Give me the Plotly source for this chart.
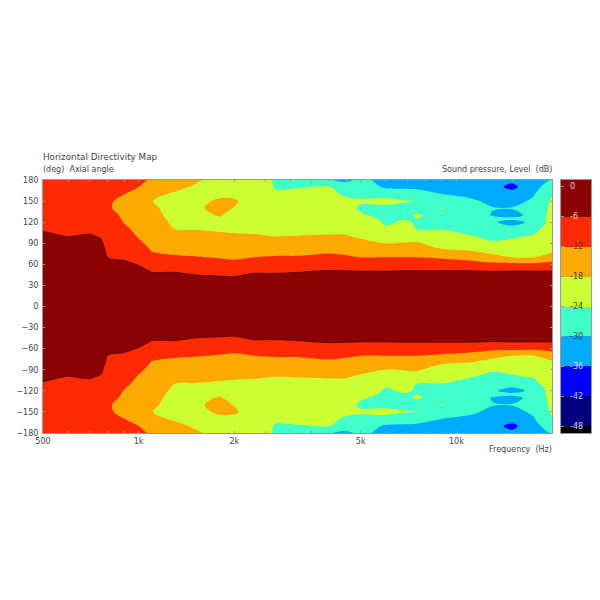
import plotly.graph_objects as go

freqs = [500, 600, 700, 760, 800, 900, 1000, 1100, 1300, 1500, 1800, 2000, 2300, 2700,
         3200, 4000, 4500, 5000, 6000, 6800, 7500, 9000, 11000, 13000, 15000, 17500, 20000]
angles = [0, 20, 40, 50, 60, 70, 80, 90, 100, 110, 120, 125, 130, 140, 150, 160, 170, 180]

# level (dB) for each frequency, one value per angle above
z_500 = [0, -1, -2, -2.5, -3, -3.5, -4, -4.7, -5.5, -6.2, -7, -7.2, -7.5, -8, -8.5, -9, -9.5, -10]
z_600 = [0, -1, -2, -2.5, -3, -3.5, -4.2, -5, -6.1, -7, -7.5, -7.7, -8, -8.5, -9, -9.5, -10, -10.5]
z_700 = [0, -1, -2, -2.5, -3, -3.5, -4, -4.8, -5.7, -6.8, -7.5, -7.7, -8, -8.5, -9, -9.5, -10, -10.5]
z_760 = [0, -1, -2, -2.7, -3.3, -3.8, -4.4, -5.4, -6.3, -7.2, -8, -8.3, -8.6, -9.3, -9.8, -10, -10.3, -10.5]
z_800 = [0, -1.5, -3, -4, -5, -6.1, -7, -7.5, -8, -8.5, -9, -9.5, -10, -11.3, -11.3, -11, -10.8, -10.5]
z_900 = [0, -1.5, -3, -4, -5.2, -6.7, -7.5, -8.2, -9.2, -10.8, -12.2, -12.6, -13, -14, -13.2, -11.9, -11, -10.5]
z_1000 = [0, -1.5, -3.5, -5, -6.2, -7.6, -9.5, -11, -12.5, -13.5, -14.5, -15, -15.5, -16.5, -15.5, -14, -12, -11]
z_1100 = [0, -2, -4.8, -6.2, -8.5, -10.8, -12.3, -13.5, -14.5, -15, -15.5, -16, -16.5, -17.3, -17.9, -16.5, -14.5, -12.6]
z_1300 = [0, -2, -4.8, -6.2, -8.8, -11.5, -13, -14.5, -16, -18, -19, -19.3, -19.5, -19.5, -19.5, -18.7, -16.5, -15]
z_1500 = [0, -2.2, -5, -7, -9.5, -11.7, -13.5, -15, -16.8, -18.1, -19.5, -19.8, -20, -19, -20, -20, -18.7, -17]
z_1800 = [0, -2.3, -5.3, -7.5, -10, -12.3, -14, -15.5, -17.2, -18.5, -19.5, -18.8, -17.5, -16.5, -17, -19.5, -20.5, -20]
z_2000 = [0, -2.3, -5.4, -7.8, -10.5, -12.8, -14.2, -15.8, -17.4, -18.8, -20, -20, -20, -18.2, -17.2, -19.5, -20.5, -20]
z_2300 = [0, -2.3, -5, -6.4, -9.5, -12, -13.8, -15.5, -17.5, -19, -20.5, -20.8, -21, -21, -21, -20.8, -20, -17.9]
z_2700 = [0, -2.2, -5, -6.4, -9, -11.6, -13.6, -15.8, -18, -19.5, -20.5, -20.8, -21, -21.5, -22, -23, -24.5, -25]
z_3200 = [0, -2, -4.8, -6.2, -9, -11.6, -13.5, -15.5, -17.8, -19.5, -20.5, -20.8, -21, -21.5, -22, -23, -24.2, -25.5]
z_4000 = [0, -2, -4.5, -5.7, -8, -11, -12.8, -15, -17.5, -19.5, -20.5, -20.8, -21, -21.5, -22, -23, -24, -29.7]
z_4500 = [0, -2, -4.6, -5.8, -8.3, -11.5, -13.2, -15, -17.6, -19.5, -20.5, -21, -21.5, -22, -23, -24.7, -27, -31.5]
z_5000 = [0, -2, -4.6, -5.9, -8.5, -12, -14, -16.5, -18.8, -20, -21, -22, -23.4, -24.8, -23.2, -25.5, -26, -28.5]
z_6000 = [0, -2, -4.6, -5.9, -8.5, -12, -15, -18, -20, -23.3, -24.6, -25, -25.5, -24.7, -23.2, -25, -31, -32]
z_6800 = [0, -2, -4.6, -5.8, -8.4, -12, -15, -17.8, -20, -22, -23.5, -24.3, -25, -25.3, -23.6, -27, -31, -32.5]
z_7500 = [0, -2, -4.6, -5.8, -8.4, -11.9, -15, -17.5, -20, -24.1, -24.3, -24, -23.6, -25.5, -23.9, -28, -31, -33]
z_9000 = [0, -2, -4.5, -5.7, -9, -12.7, -17.5, -20, -22.5, -24.1, -25, -25.3, -25.5, -23.8, -27.5, -30, -33, -34]
z_11000 = [0, -2, -4.5, -5.7, -9.5, -14, -18.2, -20.5, -23.7, -25.5, -26.5, -26.8, -27, -28, -29.2, -31, -33.5, -34]
z_13000 = [0, -2, -4.5, -6, -10.5, -16.5, -20, -23.5, -25, -26, -29.5, -28.9, -30.3, -29.8, -31, -33, -34.5, -34.5]
z_15000 = [0, -2, -4.5, -5.8, -10.5, -18, -20.5, -23, -24.5, -28.5, -31.5, -29, -31.5, -29.7, -32, -34, -37.2, -35]
z_17500 = [0, -2, -4.5, -5.8, -10.8, -18, -20, -22, -23.6, -25.5, -29, -27.5, -28.5, -27.5, -29, -30.5, -32.5, -33]
z_20000 = [0, -2, -4.5, -5.8, -9.5, -15.5, -19, -17.8, -20, -21, -21.5, -22, -22, -23, -23.2, -24.4, -26, -29.5]

columns = [z_500, z_600, z_700, z_760, z_800, z_900, z_1000, z_1100, z_1300, z_1500, z_1800, z_2000, z_2300,
           z_2700, z_3200, z_4000, z_4500, z_5000, z_6000, z_6800, z_7500, z_9000, z_11000, z_13000, z_15000,
           z_17500, z_20000]

band_colors = ['#000000', '#00007f', '#0000ff', '#00aaff', '#40ffc8', '#ccff33', '#ffaa00', '#ff2a00', '#8b0000']
band_edges = [-49.4, -48, -42, -36, -30, -24, -18, -12, -6, 1.4]
level_ticks = [0, -6, -12, -18, -24, -30, -36, -42, -48]
level_tick_colors = ['#ffc8c8', '#ffd0c0', '#444444', '#444444', '#444444', '#444444', '#c8e8ff', '#c0c0ff', '#d8d8ff']

x_minor = [500, 600, 700, 800, 900, 1000, 1500, 2000, 2500, 3000, 3500, 4000, 4500, 5000, 6000, 7000, 8000,
           9000, 10000, 15000, 20000]
x_labels = {500: '500', 1000: '1k', 2000: '2k', 5000: '5k', 10000: '10k'}
y_ticks = [-180, -150, -120, -90, -60, -30, 0, 30, 60, 90, 120, 150, 180]

# the map is symmetric, lower half mirrors the upper one
y = [-a for a in angles[::-1]] + angles[1:]
z = []
for i in range(len(angles) - 1, -1, -1):
    z.append([c[i] for c in columns])
for i in range(1, len(angles)):
    z.append([c[i] for c in columns])

n = len(band_colors)
colorscale = []
for i, c in enumerate(band_colors):
    colorscale.append([i / n, c])
    colorscale.append([(i + 1) / n, c])

TEXT = '#444444'
AXIS = '#999999'
FONT = 'DejaVu Sans'

fig = go.Figure()
fig.add_trace(go.Contour(
    x=freqs, y=y, z=z,
    zmin=-54, zmax=0,
    colorscale=colorscale,
    contours=dict(start=-48, end=-6, size=6, coloring='fill', showlines=False),
    line=dict(width=0, smoothing=1),
    hoverinfo='skip',
    showscale=False,
))
# thin dark edge round the main lobe
fig.add_trace(go.Contour(
    x=freqs, y=y, z=z,
    contours=dict(start=-6, end=-6, size=1, coloring='none'),
    line=dict(width=0.7, color='#3a0000', smoothing=1),
    hoverinfo='skip',
    showscale=False,
))

# colour key, drawn as its own small axes so it can stop short of the full bands
band_mid = [(band_edges[i] + band_edges[i + 1]) / 2 for i in range(n)]
fig.add_trace(go.Heatmap(
    x=[0, 1], y=band_edges, z=[[v] for v in band_mid],
    zmin=-54, zmax=0, colorscale=colorscale, showscale=False,
    hoverinfo='skip', xaxis='x2', yaxis='y2',
))

tick_font = dict(family=FONT, size=8, color=TEXT)
fig.update_layout(
    width=584, height=584,
    margin=dict(l=35, r=1, t=172, b=159, pad=0),
    paper_bgcolor='white', plot_bgcolor='white',
    showlegend=False,
    xaxis=dict(
        domain=[0, 509 / 548],
        type='log', range=[2.69897, 4.30103],
        tickmode='array', tickvals=x_minor,
        ticktext=[x_labels.get(v, '') for v in x_minor],
        ticks='inside', ticklen=2, tickcolor=AXIS,
        showline=True, linecolor=AXIS, linewidth=1, mirror='ticks',
        showgrid=False, zeroline=False, tickfont=tick_font,
    ),
    yaxis=dict(
        range=[-180, 180],
        tickmode='array', tickvals=y_ticks,
        ticks='inside', ticklen=2, tickcolor=AXIS,
        showline=True, linecolor=AXIS, linewidth=1, mirror='ticks',
        showgrid=False, zeroline=False, tickfont=tick_font, ticklabelstandoff=2,
    ),
    xaxis2=dict(
        domain=[518 / 548, 1], range=[0, 1], anchor='y2',
        showticklabels=False, ticks='', showgrid=False, zeroline=False,
        showline=True, linecolor=AXIS, linewidth=1, mirror=True,
    ),
    yaxis2=dict(
        domain=[0, 1], range=[band_edges[0], band_edges[-1]], anchor='x2',
        tickmode='array', tickvals=level_ticks, showticklabels=False,
        ticks='inside', ticklen=3, tickcolor=AXIS, showgrid=False, zeroline=False,
        showline=True, linecolor=AXIS, linewidth=1, mirror=True,
    ),
)

def label(txt, x, y_pos, anchor='left', size=8):
    fig.add_annotation(text=txt, x=x, y=y_pos, xref='paper', yref='paper', showarrow=False,
                       xanchor=anchor, yanchor='middle', borderpad=0,
                       xshift=-1 if anchor == 'left' else 1,
                       font=dict(family=FONT, size=size, color=TEXT))

label('Horizontal Directivity Map', 0, 1.091, size=8.8)
label('(deg)  Axial angle', 0, 1.043)
label('Sound pressure, Level  (dB)', 509 / 548, 1.043, anchor='right')
label('Frequency  (Hz)', 509 / 548, -0.067, anchor='right')

for v, c in zip(level_ticks, level_tick_colors):
    fig.add_annotation(text=str(v), x=0.22, y=v, xref='x2 domain', yref='y2', showarrow=False,
                       xanchor='left', yanchor='middle', font=dict(family=FONT, size=8, color=c))

fig.write_html("out.html")
